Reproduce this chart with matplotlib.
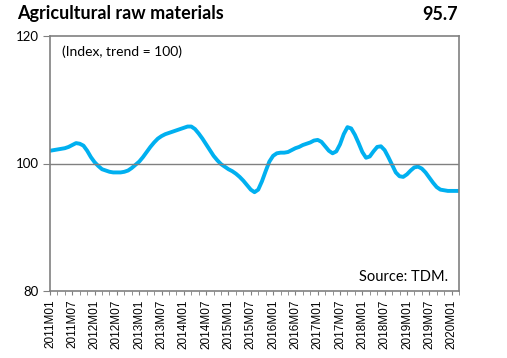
import numpy as np
import matplotlib
matplotlib.use('Agg')
import matplotlib.pyplot as plt

# monthly index values, 2011M01 .. 2020M03
values = [
    102.0, 102.1, 102.2, 102.3, 102.4, 102.6, 102.9, 103.2, 103.1, 102.8,
    102.0, 101.0, 100.2, 99.6, 99.1, 98.9, 98.7, 98.6, 98.6, 98.6,
    98.7, 98.9, 99.3, 99.8, 100.3, 101.0, 101.8, 102.6, 103.3, 103.9,
    104.3, 104.6, 104.8, 105.0, 105.2, 105.4, 105.6, 105.8, 105.8, 105.4,
    104.7, 103.9, 103.0, 102.1, 101.2, 100.5, 99.9, 99.5, 99.1, 98.8,
    98.4, 97.9, 97.3, 96.6, 95.9, 95.5, 95.9, 97.2, 98.8, 100.3,
    101.2, 101.6, 101.7, 101.7, 101.8, 102.1, 102.4, 102.6, 102.9, 103.1,
    103.3, 103.6, 103.7, 103.4, 102.7, 102.0, 101.6, 101.9, 103.0, 104.6,
    105.7, 105.5, 104.5, 103.2, 101.8, 100.9, 101.1, 101.9, 102.6, 102.7,
    102.1, 101.0, 99.8, 98.6, 98.0, 97.9, 98.3, 98.9, 99.4, 99.5,
    99.2, 98.6, 97.8, 97.0, 96.3, 95.9, 95.8, 95.7, 95.7, 95.7, 95.7,
]
years = list(range(2011, 2021))
tick_labels = []
for y in years:
    tick_labels.append('%dM01' % y)
    if y < 2020:
        tick_labels.append('%dM07' % y)

x = np.arange(len(values))

fig = plt.figure(figsize=(5.07, 3.58), dpi=100)
ax = fig.add_axes([50/507, 1-291/358, 409/507, 255/358])

ax.plot(x, values, color='#00B0F0', lw=2.8, solid_capstyle='round')
ax.axhline(100, color='#808080', lw=1)

ax.set_xlim(0, len(values) - 1)
ax.set_ylim(80, 120)
ax.set_yticks([80, 100, 120])
ax.set_xticks(np.arange(0, len(tick_labels) * 6, 6))
ax.set_xticklabels(tick_labels, rotation=90, fontsize=8.5, family='Liberation Sans')
ax.set_xticks(np.arange(0, len(values), 2), minor=True)
ax.tick_params(axis='y', labelsize=9.5, length=5, color='#808080', pad=3)
ax.tick_params(axis='x', which='both', length=3, color='#808080', pad=3)
for lab in ax.get_yticklabels():
    lab.set_family('Lato')
for s in ax.spines.values():
    s.set_color('#808080')
    s.set_linewidth(1.2)

ax.text(12/409, 1-16/255, '(Index, trend = 100)', transform=ax.transAxes,
        fontsize=10, family='Lato', va='center')
ax.text(398/409, 1-241/255, 'Source: TDM.', transform=ax.transAxes,
        fontsize=10.5, family='Lato', ha='right', va='center')

fig.text(17/507, 1-14/358, 'Agricultural raw materials', fontsize=13,
         fontweight='bold', family='Lato', va='center')
fig.text(458/507, 1-14/358, '95.7', fontsize=13, fontweight='bold',
         family='Lato', va='center', ha='right')

fig.savefig('out.png', dpi=100)
